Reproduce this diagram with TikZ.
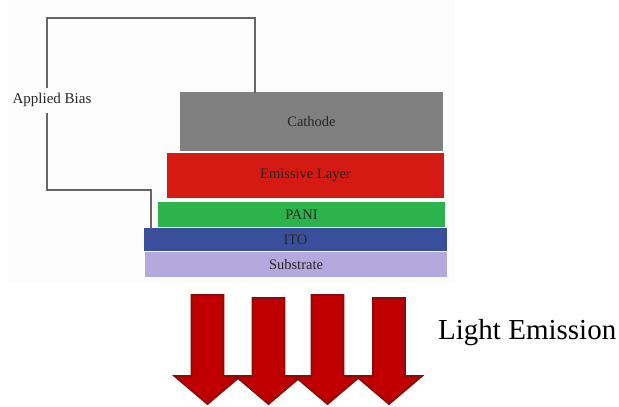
\documentclass[tikz,border=0pt]{standalone}
\usepackage{fontspec}
\setmainfont{Liberation Serif}
\begin{document}
\begin{tikzpicture}[x=1pt,y=-1pt,
  layer/.style={draw=none, inner sep=0pt, font=\fontsize{14.5}{16}\selectfont, text=black!85},
  wire/.style={draw=black!60, line width=1.4pt},
  bigarrow/.style={fill=arrowred, draw=arrowdark, line width=1.8pt, line join=miter}]
\definecolor{cathodegray}{HTML}{808080}
\definecolor{emisred}{HTML}{D41A12}
\definecolor{panigreen}{HTML}{2DB34C}
\definecolor{itoblue}{HTML}{3A4F9C}
\definecolor{subviolet}{HTML}{B3A9DC}
\definecolor{arrowred}{HTML}{C00000}
\definecolor{arrowdark}{HTML}{8A0A0A}
\useasboundingbox (0,0) rectangle (619,407);
\fill[black!1] (8,0) rectangle (455,283);
% layers
\node[layer, fill=cathodegray, minimum width=263, minimum height=59] (cathode) at (311.5,121.5) {Cathode};
\node[layer, fill=emisred, minimum width=277, minimum height=45] (emis) at (305.5,175.5) {Emissive Layer};
\node[layer, fill=panigreen, minimum width=287, minimum height=25] (pani) at (301.5,214.5) {PANI};
\node[layer, fill=itoblue, minimum width=303, minimum height=23] (ito) at (295.5,239.5) {ITO};
\node[layer, fill=subviolet, minimum width=302, minimum height=25] (sub) at (296,264.5) {Substrate};
% wire
\node[inner sep=0pt, font=\fontsize{15}{16}\selectfont, text=black!85] (bias) at (52,100) {Applied Bias};
\coordinate (wl) at (47,0);
\coordinate (bt) at (47,88);
\coordinate (bb) at (47,113);
\coordinate (tl) at (47,18);
\coordinate (tr) at (255,18);
\coordinate (ct) at (255,92.5);
\coordinate (bl) at (47,190);
\coordinate (br) at (151,190);
\coordinate (it) at (151,228.5);
\draw[wire] (bt) -- (tl) -- (tr) -- (ct);
\draw[wire] (bb) -- (bl) -- (br) -- (it);
% arrows
\foreach \cx/\ty [count=\i] in {207.5/295, 268.5/298, 327.5/295, 389/298}{
  \draw[bigarrow] (\cx-16,\ty) -- (\cx+16,\ty) -- (\cx+16,376) -- (\cx+33,376) -- (\cx,404) -- (\cx-33,376) -- (\cx-16,376) -- cycle;
}
\node[inner sep=0pt, anchor=west, font=\fontsize{29}{30}\selectfont] (light) at (438,333) {Light Emission};
\end{tikzpicture}
\end{document}
